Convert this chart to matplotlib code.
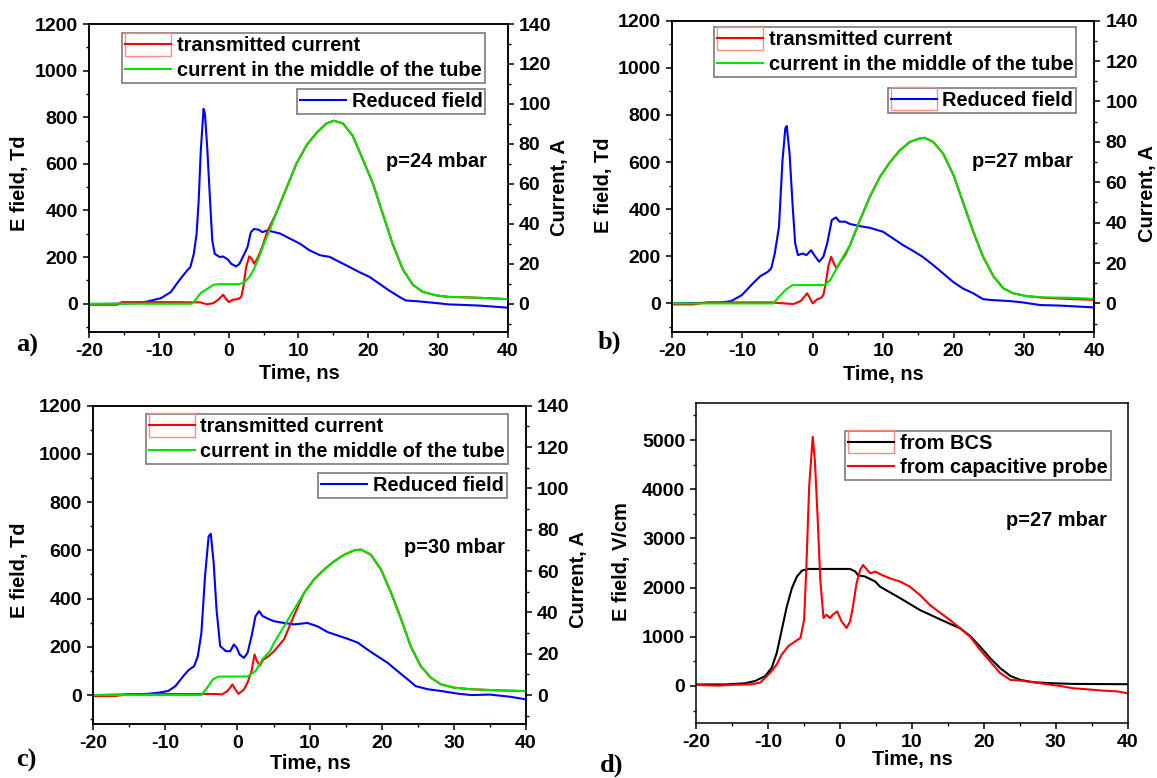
import matplotlib
matplotlib.use("Agg")
import matplotlib.pyplot as plt
from matplotlib.legend_handler import HandlerLine2D
from matplotlib.patches import Rectangle
from matplotlib.ticker import MultipleLocator

# ---------------- data ----------------
# panel a) p = 24 mbar
ta_field = [-20, -16, -13, -11.6, -9.7, -8.3, -7.1, -5.95, -5.5, -5.0, -4.6, -4.3, -4.0, -3.6,
            -3.4, -3.05, -2.67, -2.35, -2.0, -1.27, -0.8, -0.1, 0.37, 1.07, 1.54, 2.25, 2.7,
            3.18, 3.65, 4.35, 4.8, 5.5, 5.9, 7.4, 8.8, 10.2, 11.6, 13.1, 14.5, 15.9, 17.3,
            18.7, 20.2, 21.6, 23.0, 24.5, 25.4, 27.3, 29.7, 31.6, 33.5, 36, 40]
ea_field = [-2, 0, 3, 10, 24, 50, 100, 143, 157, 214, 300, 443, 657, 836,
            814, 657, 443, 271, 214, 200, 203, 189, 171, 160, 171, 214, 243,
            307, 321, 317, 307, 314, 312, 301, 279, 258, 229, 208, 201, 179, 158,
            136, 115, 86, 57, 29, 14, 10, 3, -3, -5, -8, -17]
ta_trans = [-20, -16, -15.3, -7, -5.5, -4.1, -3.1, -2.2, -1.5, -0.8, -0.33, 0.04, 0.6, 1.3,
            1.8, 2.1, 2.5, 2.95, 3.3, 3.65, 4.1, 4.8, 5.5, 6.9, 8.3, 9.7, 11.2, 12.6, 14.0,
            15.1, 16.4, 17.8, 19.2, 20.7, 22.1, 23.5, 25.0, 26.4, 27.8, 29.7, 31.6, 34, 37, 40]
ia_trans = [-0.5, -0.5, 0.8, 0.8, 0.7, 0.7, -0.3, 0.3, 2.0, 4.5, 2.2, 0.8, 2.0, 2.3,
            3.3, 8.3, 18.3, 23.7, 22.5, 20.0, 22.5, 28.3, 35.8, 46, 58, 70, 79.5, 85.5, 90.2,
            91.6, 90.2, 84, 72.5, 60, 45, 30, 17, 9.5, 6, 4.2, 3.4, 3.2, 2.8, 2.3]
ta_mid = [-20, -5.3, -4.8, -4.3, -3.85, -3.4, -2.7, -2.2, -1.3, 1.5, 2.25, 2.95, 3.65, 4.35,
          5.05, 5.9, 6.9, 8.3, 9.7, 11.2, 12.6, 14.0, 15.1, 16.4, 17.8, 19.2, 20.7, 22.1,
          23.5, 25.0, 26.4, 27.8, 29.7, 31.6, 34, 37, 40]
ia_mid = [0, 0, 1.7, 4.2, 5.8, 6.7, 8.3, 9.5, 9.8, 9.8, 10.8, 13.3, 17.5, 23.3,
          30, 37, 46, 58, 70, 79.5, 85.5, 90.2, 91.6, 90.2, 84, 72.5, 60, 45,
          30, 17, 9.5, 6, 4.2, 3.4, 3.2, 2.8, 2.3]

# panel b) p = 27 mbar
tb_field = [-20, -16, -13, -11.6, -10.1, -8.5, -7.45, -6.4, -5.9, -5.4, -4.8, -4.3, -3.9, -3.7,
            -3.3, -2.85, -2.5, -2.1, -1.45, -0.9, -0.24, 0.3, 0.9, 1.5, 2.05, 2.7, 3.3, 3.8,
            4.6, 5.3, 6.7, 8.1, 10.0, 11.4, 12.8, 14.2, 15.6, 17.1, 18.5, 19.9, 21.3, 22.8,
            24.2, 25.6, 28.0, 29.9, 32.3, 35, 40]
eb_field = [0, 2, 4, 10, 35, 85, 116, 134, 149, 212, 325, 608, 743, 753,
            637, 410, 255, 205, 212, 205, 226, 201, 177, 198, 255, 354, 365, 347,
            347, 337, 328, 321, 304, 276, 248, 224, 198, 163, 128, 92, 64, 43,
            18, 14, 10, 4, -7, -9, -17]
tb_trans = [-20, -17, -15, -6, -2.75, -1.7, -0.8, -0.4, 0.0, 0.6, 1.2, 1.5, 1.85, 2.2, 2.6,
            3.0, 3.4, 3.8, 4.6, 5.3, 6.7, 8.1, 9.55, 11.0, 12.4, 13.8, 15.2, 15.9, 17.1, 18.5,
            20.0, 21.4, 22.8, 24.2, 25.7, 27.1, 28.5, 30.4, 32.8, 36.5, 40]
ib_trans = [-0.5, -0.5, 0.5, 0.5, -0.3, 1.2, 5.0, 2.5, 0.0, 2.0, 2.8, 4.1, 9.9, 18.2, 23.1,
            19.8, 17.3, 19.8, 23.9, 28.9, 41.2, 52.8, 62.7, 70.1, 75.9, 80.0, 81.7, 82.0, 80.0,
            74.3, 63.5, 49.5, 35.5, 23.1, 13.2, 7.4, 5.0, 3.6, 2.8, 2.2, 1.8]
tb_mid = [-20, -5.6, -4.8, -3.8, -2.85, 1.7, 2.5, 3.5, 4.6, 5.3, 6.7, 8.1, 9.55, 11.0, 12.4,
          13.8, 15.2, 15.9, 17.1, 18.5, 20.0, 21.4, 22.8, 24.2, 25.7, 27.1, 28.5, 30.4, 32.8,
          36.5, 40]
ib_mid = [0, 0, 3.3, 6.9, 9.1, 9.1, 11.6, 18.2, 24.8, 28.9, 41.2, 52.8, 62.7, 70.1, 75.9,
          80.0, 81.7, 82.0, 80.0, 74.3, 63.5, 49.5, 35.5, 23.1, 13.2, 7.4, 5.0, 3.6, 3.0,
          2.8, 2.3]

# panel c) p = 30 mbar
tc_field = [-20, -16, -12.5, -10.9, -9.6, -8.6, -7.5, -6.8, -6.0, -5.5, -5.0, -4.5, -4.0, -3.7,
            -3.3, -2.9, -2.4, -1.6, -1.0, -0.5, -0.1, 0.3, 0.9, 1.4, 1.95, 2.5, 3.0, 3.5,
            4.5, 5.07, 6.46, 7.84, 9.7, 11.1, 12.5, 13.9, 15.3, 16.7, 18.0, 19.4, 20.8, 22.2,
            23.6, 24.7, 26.4, 28.2, 30.5, 32.4, 35, 37.8, 40]
ec_field = [0, 2, 5, 10, 17, 37, 79, 103, 120, 161, 258, 492, 658, 669,
            548, 354, 203, 182, 182, 210, 196, 168, 154, 175, 244, 327, 348, 327,
            313, 306, 299, 293, 299, 285, 261, 247, 233, 217, 189, 161, 134, 99,
            65, 37, 24, 17, 6, 0, 2, -7, -18]
tc_trans = [-20, -17, -15, -3, -2.15, -1.4, -0.7, -0.35, 0.15, 0.9, 1.4, 1.95, 2.36, 2.7,
            3.1, 3.6, 4.3, 5.07, 6.46, 7.84, 9.23, 10.6, 12.0, 13.4, 14.8, 16.2, 17.1, 18.5,
            19.9, 21.3, 22.7, 24.0, 25.4, 26.8, 28.2, 30.0, 32.4, 36, 40]
ic_trans = [-0.5, -0.5, 0.5, 0.5, 0.3, 1.9, 5.1, 3.0, 0.6, 2.7, 6.0, 11.6, 19.6, 16.4,
            14.3, 17.2, 18.8, 21.2, 27.0, 38.5, 49.4, 55.9, 60.7, 64.7, 67.9, 70.0, 70.4, 67.9,
            60.7, 49.4, 36.6, 23.7, 14.0, 8.4, 5.2, 3.6, 2.8, 2.3, 1.9]
tc_mid = [-20, -5.0, -4.2, -3.4, -2.7, 1.4, 2.5, 3.5, 4.5, 5.07, 6.46, 7.84, 9.23, 10.6, 12.0,
          13.4, 14.8, 16.2, 17.1, 18.5, 19.9, 21.3, 22.7, 24.0, 25.4, 26.8, 28.2, 30.0, 32.4,
          36, 40]
ic_mid = [0, 0, 3.5, 7.6, 8.9, 9.0, 11.6, 17.5, 21.2, 25.3, 33.3, 41.4, 49.4, 55.9, 60.7,
          64.7, 67.9, 70.0, 70.4, 67.9, 60.7, 49.4, 36.6, 23.7, 14.0, 8.4, 5.2, 3.6, 2.8,
          2.3, 1.9]

# panel d) p = 27 mbar, field in V/cm
td_bcs = [-20, -16, -13.2, -11.8, -10.4, -9.5, -8.8, -8.1, -7.4, -6.7, -6.0, -5.3, -4.4,
          -2.0, 1.4, 2.1, 2.5, 3.5, 4.9, 5.56, 8.4, 11.1, 13.9, 16.7, 18.1, 19.5, 20.9, 22.3,
          23.7, 25.1, 26.9, 29.7, 32.4, 36, 40]
ed_bcs = [30, 30, 54, 101, 202, 371, 674, 1146, 1617, 1988, 2224, 2345, 2379,
          2379, 2379, 2330, 2251, 2224, 2123, 2019, 1782, 1545, 1355, 1172, 1016, 799, 563, 360,
          203, 122, 75, 54, 41, 38, 35]
td_probe = [-20, -17, -14.5, -12.5, -11.1, -9.7, -8.8, -8.1, -7.2, -6.2, -5.5, -5.0, -4.7,
            -4.3, -3.8, -3.5, -3.1, -2.75, -2.3, -1.9, -1.4, -1.0, -0.4, 0.2, 0.9, 1.4, 1.8,
            2.3, 2.8, 3.2, 3.7, 4.2, 4.9, 5.8, 6.95, 8.4, 9.7, 11.1, 12.5, 13.9, 15.3, 16.7,
            18.1, 19.5, 20.9, 22.3, 23.7, 25.1, 26.9, 28.8, 30.6, 32.4, 34.5, 36.5, 38.5, 40]
ed_probe = [20, 5, 25, 30, 67, 270, 438, 640, 809, 910, 977, 1348, 2358,
            4043, 5067, 4582, 3369, 2156, 1381, 1449, 1381, 1449, 1516, 1314, 1179, 1314, 1617,
            2089, 2358, 2460, 2372, 2291, 2325, 2257, 2188, 2120, 2019, 1850, 1646, 1490, 1341,
            1172, 1002, 732, 494, 258, 122, 108, 75, 34, 0, -47, -70, -95, -110, -149]

pressures = ["p=24 mbar", "p=27 mbar", "p=30 mbar", "p=27 mbar"]
panel_tags = ["a)", "b)", "c)", "d)"]

# ---------------- styling ----------------
plt.rcParams['font.family'] = ['Liberation Sans', 'DejaVu Sans']
plt.rcParams['font.weight'] = 'bold'
plt.rcParams['axes.linewidth'] = 1.1
plt.rcParams['axes.unicode_minus'] = False

RED, GREEN, BLUE = '#ff0000', '#00e400', '#0000ff'
W, H = 1157, 778
fig = plt.figure(figsize=(W / 100, H / 100), dpi=100)

TICK_FS = 14
LABEL_FS = 14.4
LEG_FS = 14.4


class FramedLine(HandlerLine2D):
    """Line sample with a thin light-red frame around it."""
    def create_artists(self, legend, orig_handle, xdescent, ydescent,
                       width, height, fontsize, trans):
        arts = super().create_artists(legend, orig_handle, xdescent, ydescent,
                                      width, height, fontsize, trans)
        ymid = height / 2 - ydescent
        box = Rectangle((-xdescent, ymid - 0.58 * fontsize), width, 1.16 * fontsize,
                        fill=False, edgecolor='#ff8a8a', lw=1.0, transform=trans)
        return [box] + list(arts)


def add_axes_px(l, t, r, b):
    return fig.add_axes([l / W, 1 - b / H, (r - l) / W, (b - t) / H])


def fig_text(x, y, s, **kw):
    fig.text(x / W, 1 - y / H, s, **kw)


def tick_style(ax, axis, **extra):
    ax.tick_params(axis=axis, which='both', direction='out', pad=3.5,
                   labelsize=TICK_FS, **extra)
    ax.tick_params(axis=axis, which='major', length=4.5, width=1.1)
    ax.tick_params(axis=axis, which='minor', length=2.5, width=1.0)


def style_x(ax):
    ax.set_xlim(-20, 40)
    ax.xaxis.set_major_locator(MultipleLocator(10))
    ax.xaxis.set_minor_locator(MultipleLocator(5))
    tick_style(ax, 'x', top=False)


def leg_kw(fs=LEG_FS):
    return dict(fontsize=fs, frameon=True, fancybox=False, framealpha=1,
                edgecolor='#7a7a7a', borderpad=0.15, labelspacing=0.28,
                handlelength=2.3, handletextpad=0.28, borderaxespad=0)


def bold_ticks(*axes):
    for a in axes:
        for lab in a.get_xticklabels() + a.get_yticklabels():
            lab.set_fontweight('bold')


def current_panel(box, t_f, e_f, t_tr, i_tr, t_m, i_m, ptxt, ppos, leg1, leg2,
                  frame_blue, labels):
    ax = add_axes_px(*box)
    ax2 = ax.twinx()
    style_x(ax)
    ax.set_ylim(-120, 1200)
    ax.yaxis.set_major_locator(MultipleLocator(200))
    ax.yaxis.set_minor_locator(MultipleLocator(100))
    tick_style(ax, 'y')
    ax2.set_ylim(-14, 140)
    ax2.yaxis.set_major_locator(MultipleLocator(20))
    ax2.yaxis.set_minor_locator(MultipleLocator(10))
    tick_style(ax2, 'y')
    bold_ticks(ax, ax2)

    lb, = ax.plot(t_f, e_f, color=BLUE, lw=1.5, label='Reduced field')
    lr, = ax2.plot(t_tr, i_tr, color=RED, lw=1.5, label='transmitted current')
    lg, = ax2.plot(t_m, i_m, color=GREEN, lw=1.5, label='current in the middle of the tube')

    ax2.text(ppos[0], ppos[1] * 140 / 1200, ptxt, ha='right', va='center',
             fontsize=LABEL_FS, fontweight='bold')

    l1 = ax2.legend(handles=[lr, lg], loc='upper right', bbox_to_anchor=leg1,
                    handler_map={lr: FramedLine()}, **leg_kw())
    l1.get_frame().set_linewidth(1.2)
    ax2.add_artist(l1)
    hm = {lb: FramedLine()} if frame_blue else {}
    l2 = ax2.legend(handles=[lb], loc='upper right', bbox_to_anchor=leg2,
                    handler_map=hm, **leg_kw())
    l2.get_frame().set_linewidth(1.2)

    (ylx, yly), (rlx, rly), (xlx, xly), (tx, ty), tag = labels
    fig_text(ylx, yly, 'E field, Td', rotation=90, ha='center', va='center',
             fontsize=LABEL_FS, fontweight='bold')
    fig_text(rlx, rly, 'Current, A', rotation=90, ha='center', va='center',
             fontsize=LABEL_FS, fontweight='bold')
    fig_text(xlx, xly, 'Time, ns', ha='center', va='center',
             fontsize=LABEL_FS, fontweight='bold')
    fig_text(tx, ty, tag, ha='center', va='center', fontsize=19,
             fontweight='bold', family=['Liberation Serif', 'DejaVu Serif'])
    return ax, ax2


current_panel((89.2, 24, 507.6, 331.7), ta_field, ea_field, ta_trans, ia_trans,
              ta_mid, ia_mid, pressures[0], (37.0, 612), (0.945, 0.970), (0.947, 0.788),
              False, ((20, 183), (559, 188), (299, 373), (27, 345), panel_tags[0]))
current_panel((672, 20.7, 1094.3, 331.7), tb_field, eb_field, tb_trans, ib_trans,
              tb_mid, ib_mid, pressures[1], (37.0, 601), (0.957, 0.979), (0.957, 0.785),
              True, ((603, 185), (1147, 193), (883, 375), (609, 342), panel_tags[1]))
current_panel((93.2, 405.7, 526, 724), tc_field, ec_field, tc_trans, ic_trans,
              tc_mid, ic_mid, pressures[2], (37.1, 610), (0.958, 0.974), (0.956, 0.787),
              False, ((20, 570), (579, 580), (310, 763), (26, 760), panel_tags[2]))

# panel d
axd = add_axes_px(696.3, 402.7, 1127.5, 723.3)
style_x(axd)
axd.set_ylim(-760, 5760)
axd.yaxis.set_major_locator(MultipleLocator(1000))
axd.yaxis.set_minor_locator(MultipleLocator(500))
tick_style(axd, 'y', right=False)
bold_ticks(axd)
lk, = axd.plot(td_bcs, ed_bcs, color='black', lw=1.5, label='from BCS')
lp, = axd.plot(td_probe, ed_probe, color=RED, lw=1.5, label='from capacitive probe')
axd.text(37.1, 3374, pressures[3], ha='right', va='center', fontsize=LABEL_FS,
         fontweight='bold')
ld = axd.legend(handles=[lk, lp], loc='upper right', bbox_to_anchor=(0.961, 0.913),
                handler_map={lk: FramedLine()}, **leg_kw())
ld.get_frame().set_linewidth(1.2)
fig_text(622, 562, 'E field, V/cm', rotation=90, ha='center', va='center',
         fontsize=LABEL_FS, fontweight='bold')
fig_text(912, 759, 'Time, ns', ha='center', va='center', fontsize=LABEL_FS,
         fontweight='bold')
fig_text(612, 765, panel_tags[3], ha='center', va='center', fontsize=19,
         fontweight='bold', family=['Liberation Serif', 'DejaVu Serif'])

fig.savefig('out.png', dpi=100)
